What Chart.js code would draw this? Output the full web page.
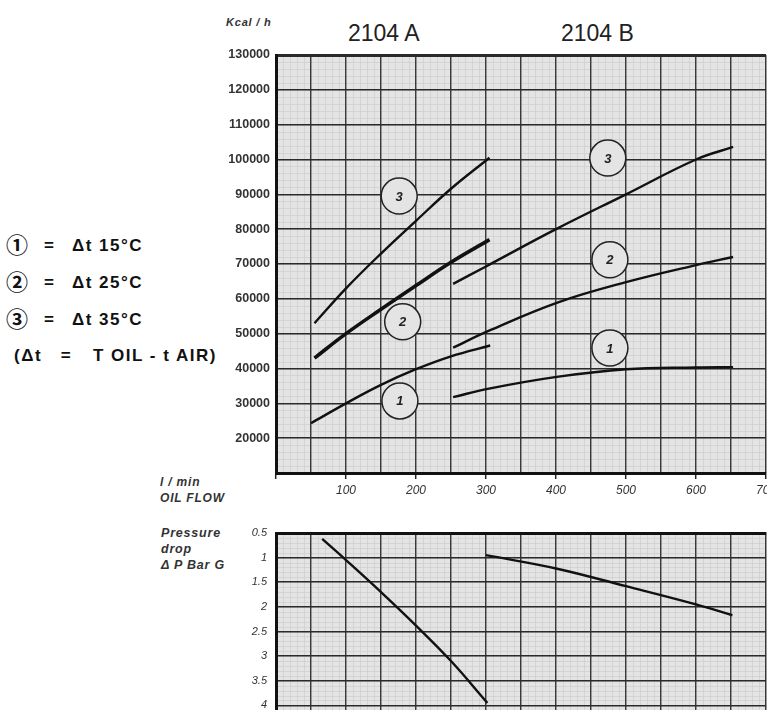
<!DOCTYPE html>
<html>
<head>
<meta charset="utf-8">
<script src="https://cdn.jsdelivr.net/npm/chart.js@4.4.1/dist/chart.umd.min.js"></script>
<style>
  html, body { margin: 0; padding: 0; background: #fff; overflow: hidden; }
  body { width: 767px; height: 710px; position: relative; font-family: "Liberation Sans", Arial, sans-serif; color: #222; }
  .abs { position: absolute; white-space: nowrap; }
  #heat { position: absolute; left: 196px; top: 45px; }
  #drop { position: absolute; left: 196px; top: 523px; }
  .cap { font-weight: bold; font-style: italic; font-size: 12px; color: #333; line-height: 16px; letter-spacing: 0.8px; }
  .model { font-size: 23px; color: #222; }
  .leg { font-weight: bold; font-size: 17px; letter-spacing: 1.5px; color: #111; line-height: 20px; }
  .circ { font-family: "Noto Sans CJK JP", "DejaVu Sans", sans-serif; font-size: 22px; font-weight: bold; letter-spacing: 0; }
</style>
</head>
<body>
<div class="abs cap" style="left:226px; top:14px; font-size:11px;">Kcal / h</div>
<div class="abs model" style="left:348px; top:20px;">2104 A</div>
<div class="abs model" style="left:561px; top:20px;">2104 B</div>
<div class="abs" style="left:297px; top:59px; font-size:25px; color:#333;">LTF</div>

<div class="abs leg" style="left:6px; top:233px;"><span class="circ">①</span></div>
<div class="abs leg" style="left:44px; top:236px;">=</div>
<div class="abs leg" style="left:72px; top:236px;">Δt 15°C</div>
<div class="abs leg" style="left:6px; top:270px;"><span class="circ">②</span></div>
<div class="abs leg" style="left:44px; top:273px;">=</div>
<div class="abs leg" style="left:72px; top:273px;">Δt 25°C</div>
<div class="abs leg" style="left:6px; top:307px;"><span class="circ">③</span></div>
<div class="abs leg" style="left:44px; top:310px;">=</div>
<div class="abs leg" style="left:72px; top:310px;">Δt 35°C</div>
<div class="abs leg" style="left:14px; top:346px;">(Δt&nbsp;&nbsp;&nbsp;=</div>
<div class="abs leg" style="left:93px; top:346px;">T OIL - t AIR)</div>

<div class="abs cap" style="left:160px; top:474px;">l / min<br>OIL FLOW</div>
<div class="abs cap" style="left:161px; top:525px; font-size:12.5px;">Pressure<br>drop<br>Δ P Bar G</div>

<canvas id="heat" width="571" height="460"></canvas>
<canvas id="drop" width="571" height="217"></canvas>

<script>
// curves: oil flow (l/min) -> heat (Kcal/h)
const flowA3 = [55, 100, 150, 200, 250, 305];
const kcalA3 = [53000, 63000, 73000, 82400, 91600, 100500];
const flowA2 = [55, 100, 150, 200, 250, 305];
const kcalA2 = [43000, 50000, 57000, 63800, 70500, 77000];
const flowA1 = [50, 100, 150, 200, 250, 306];
const kcalA1 = [24300, 30000, 35300, 39800, 43500, 46600];
const flowB3 = [253, 300, 400, 500, 600, 653];
const kcalB3 = [64300, 69300, 80000, 90000, 100000, 103600];
const flowB2 = [253, 306, 403, 500, 600, 653];
const kcalB2 = [46000, 51000, 59000, 64800, 69700, 72000];
const flowB1 = [253, 306, 401, 500, 600, 653];
const kcalB1 = [31800, 34300, 37600, 39800, 40300, 40400];

// circled curve numbers
const markerText = ['3', '2', '1', '3', '2', '1'];
const markerFlow = [176, 181, 177, 474, 477, 477];
const markerKcal = [89500, 53400, 30700, 100400, 71200, 45900];

// pressure drop (bar)
const flowPA = [66, 100, 150, 200, 250, 302];
const dropPA = [0.62, 1.05, 1.7, 2.38, 3.1, 3.95];
const flowPB = [300, 400, 500, 600, 652];
const dropPB = [0.95, 1.22, 1.58, 1.95, 2.17];

const pts = (xs, ys) => xs.map((x, i) => ({ x: x, y: ys[i] }));

const paper = '#e4e4e4';

// light grey graph paper with fine lines, under the main grid
const paperGrid = {
  id: 'paperGrid',
  beforeDraw(chart, args, opts) {
    const { ctx, chartArea: a, scales: { x, y } } = chart;
    ctx.save();
    ctx.fillStyle = paper;
    ctx.fillRect(a.left, a.top, a.right - a.left, a.bottom - a.top);
    ctx.strokeStyle = '#cdcdcd';
    ctx.lineWidth = 0.7;
    ctx.beginPath();
    for (let v = x.min; v <= x.max; v += opts.dx) {
      const p = Math.round(x.getPixelForValue(v)) + 0.5;
      ctx.moveTo(p, a.top); ctx.lineTo(p, a.bottom);
    }
    for (let v = y.min; v <= y.max + 1e-9; v += opts.dy) {
      const p = Math.round(y.getPixelForValue(v)) + 0.5;
      ctx.moveTo(a.left, p); ctx.lineTo(a.right, p);
    }
    ctx.stroke();
    ctx.restore();
  }
};

// digits inside the circles
const markerLabels = {
  id: 'markerLabels',
  afterDatasetsDraw(chart) {
    const ctx = chart.ctx;
    chart.data.datasets.forEach((ds, i) => {
      if (!ds.labels) return;
      const meta = chart.getDatasetMeta(i);
      ctx.save();
      ctx.font = 'italic bold 13px "Liberation Sans", Arial, sans-serif';
      ctx.fillStyle = '#222';
      ctx.textAlign = 'center';
      ctx.textBaseline = 'middle';
      meta.data.forEach((el, j) => ctx.fillText(ds.labels[j], el.x, el.y + 1));
      ctx.restore();
    });
  }
};

const curve = (xs, ys, w) => ({
  data: pts(xs, ys),
  borderColor: '#111',
  borderWidth: w || 2.4,
  pointRadius: 0,
  tension: 0.4,
  fill: false,
  order: 1
});

// keep the plot box fixed: no extra room for overhanging tick labels
const noPadX = s => { s.paddingLeft = 0; s.paddingRight = 0; };
const noPadY = s => { s.paddingTop = 0; s.paddingBottom = 0; };

new Chart(document.getElementById('heat'), {
  type: 'line',
  data: {
    datasets: [
      curve(flowA3, kcalA3),
      curve(flowA2, kcalA2, 3.6),
      curve(flowA1, kcalA1),
      curve(flowB3, kcalB3),
      curve(flowB2, kcalB2),
      curve(flowB1, kcalB1),
      {
        data: pts(markerFlow, markerKcal),
        labels: markerText,
        showLine: false,
        pointRadius: 18,
        pointBackgroundColor: paper,
        pointBorderColor: '#222',
        pointBorderWidth: 1.5,
        order: 0
      }
    ]
  },
  options: {
    responsive: false,
    devicePixelRatio: 1,
    animation: false,
    layout: { autoPadding: false, padding: { top: 10, right: 1 } },
    plugins: { legend: { display: false }, tooltip: { enabled: false }, paperGrid: { dx: 10, dy: 2000 } },
    scales: {
      x: {
        type: 'linear',
        min: 0,
        max: 700,
        afterFit: s => { s.height = 32; noPadX(s); },
        border: { color: '#111', width: 3 },
        grid: {
          color: '#3a3a3a',
          lineWidth: 1.4,
          tickLength: 6,
          tickWidth: 1.5,
          tickColor: c => (c.tick.value % 100 === 0 ? '#222' : 'rgba(0,0,0,0)')
        },
        ticks: {
          stepSize: 50,
          autoSkip: false,
          maxRotation: 0,
          padding: 4,
          color: '#333',
          font: { family: '"Liberation Sans", Arial, sans-serif', size: 12, style: 'italic' },
          callback: v => (v % 100 === 0 && v > 0 ? String(v) : '')
        }
      },
      y: {
        min: 10000,
        max: 130000,
        afterFit: s => { s.width = 80; noPadY(s); },
        border: { color: '#111', width: 3 },
        grid: {
          color: '#2a2a2a',
          lineWidth: c => (c.tick.value === 130000 ? 3 : 1.6),
          drawTicks: false
        },
        ticks: {
          stepSize: 10000,
          padding: 6,
          color: '#333',
          font: { family: '"Liberation Sans", Arial, sans-serif', size: 12.5, weight: 'bold' },
          callback: v => (v > 10000 ? String(v) : '')
        }
      }
    }
  },
  plugins: [paperGrid, markerLabels]
});

new Chart(document.getElementById('drop'), {
  type: 'line',
  data: {
    datasets: [
      curve(flowPA, dropPA),
      curve(flowPB, dropPB)
    ]
  },
  options: {
    responsive: false,
    devicePixelRatio: 1,
    animation: false,
    layout: { autoPadding: false, padding: { top: 10, right: 1, bottom: 10 } },
    plugins: { legend: { display: false }, tooltip: { enabled: false }, paperGrid: { dx: 10, dy: 0.1 } },
    scales: {
      x: {
        type: 'linear',
        position: 'top',
        min: 0,
        max: 700,
        afterFit: s => { s.height = 0; noPadX(s); },
        border: { color: '#111', width: 3 },
        grid: { color: '#3a3a3a', lineWidth: 1.4, drawTicks: false },
        ticks: { display: false, stepSize: 50 }
      },
      y: {
        reverse: true,
        min: 0.5,
        max: 4.5,
        afterFit: s => { s.width = 80; noPadY(s); },
        border: { color: '#111', width: 3 },
        grid: { color: '#2a2a2a', lineWidth: 1.6, drawTicks: false },
        ticks: {
          stepSize: 0.5,
          padding: 9,
          color: '#333',
          font: { family: '"Liberation Sans", Arial, sans-serif', size: 11, style: 'italic' },
          callback: v => (v <= 4 ? String(v) : '')
        }
      }
    }
  },
  plugins: [paperGrid]
});
</script>
</body>
</html>
